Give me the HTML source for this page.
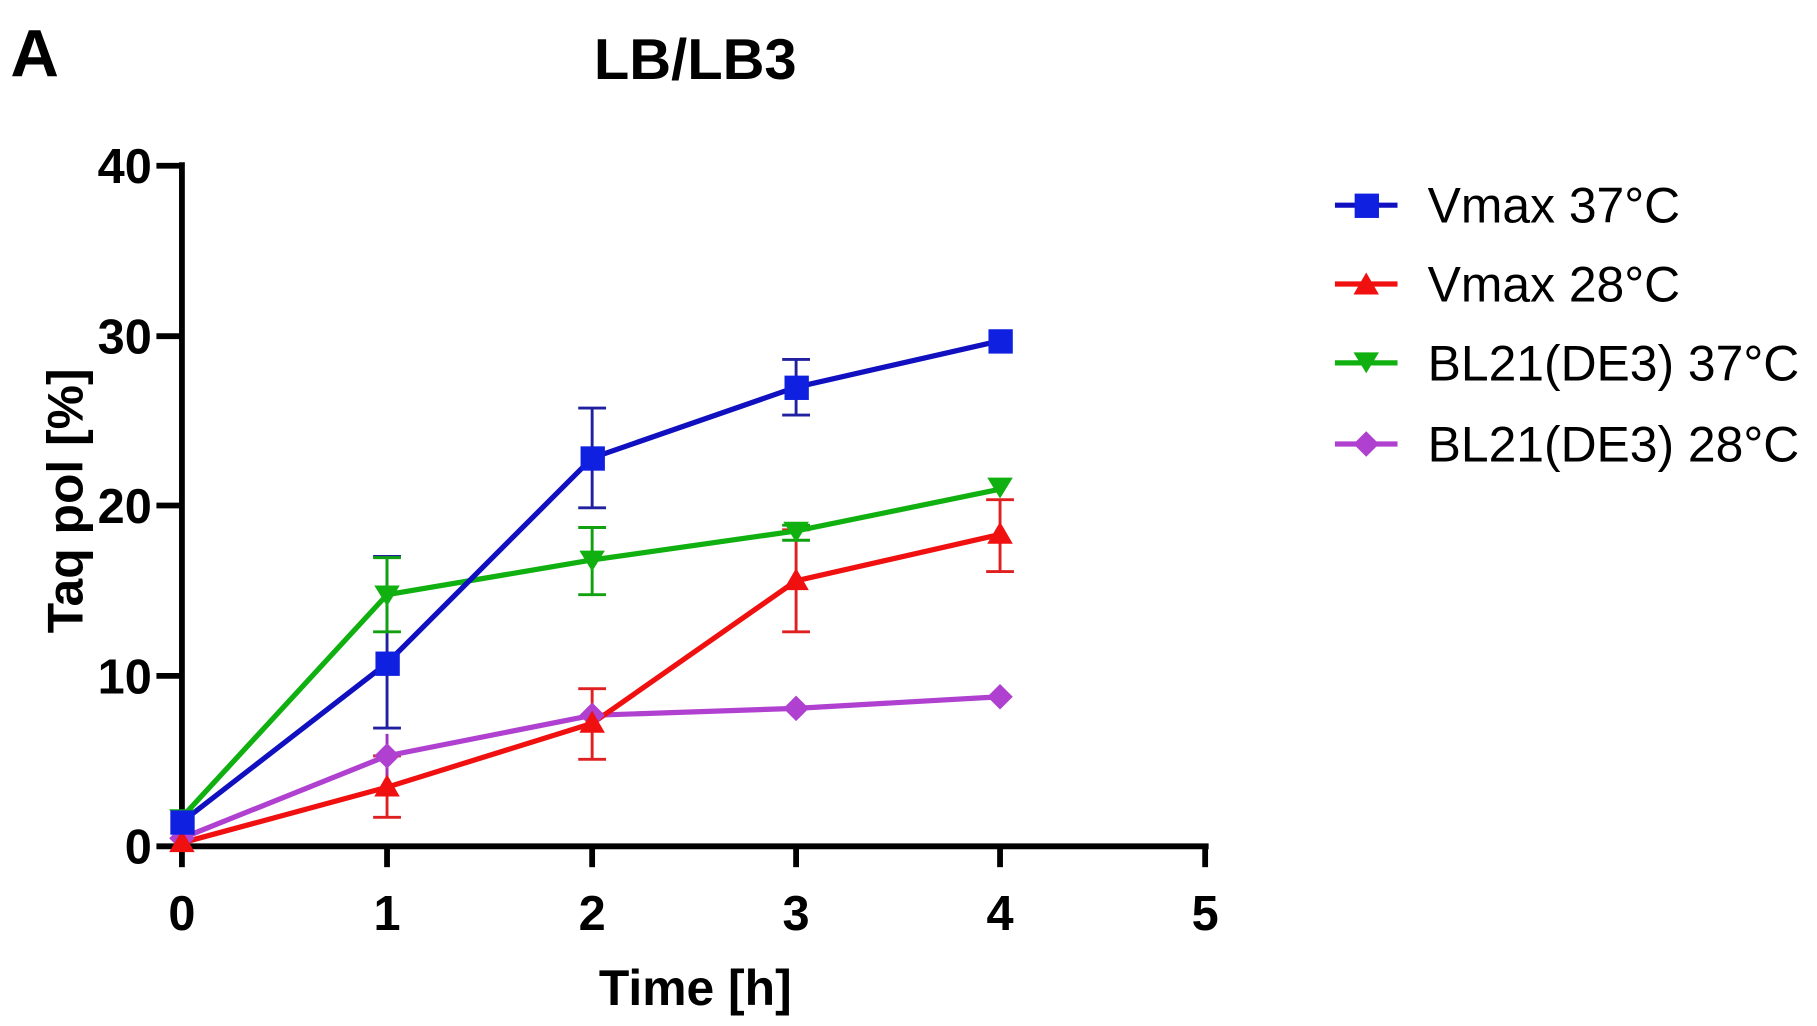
<!DOCTYPE html>
<html><head><meta charset="utf-8"><style>
html,body{margin:0;padding:0;background:#fff;width:1817px;height:1026px;overflow:hidden}
svg{display:block}
text{font-family:"Liberation Sans",Arial,sans-serif}
</style></head><body>
<svg width="1817" height="1026" viewBox="0 0 1568 885" preserveAspectRatio="none" xmlns="http://www.w3.org/2000/svg">
<text x="9" y="66" font-size="58" font-weight="bold">A</text>
<text x="600" y="68" font-size="50" font-weight="bold" text-anchor="middle">LB/LB3</text>
<!-- axes -->
<g stroke="#000" stroke-width="5" fill="none">
<line x1="157" y1="140" x2="157" y2="732"/>
<line x1="155" y1="730" x2="1043" y2="730"/>
<line x1="135" y1="143" x2="157" y2="143"/>
<line x1="135" y1="290" x2="157" y2="290"/>
<line x1="135" y1="436" x2="157" y2="436"/>
<line x1="135" y1="583" x2="157" y2="583"/>
<line x1="135" y1="730" x2="157" y2="730"/>
<line x1="157" y1="730" x2="157" y2="748"/>
<line x1="334" y1="730" x2="334" y2="748"/>
<line x1="511" y1="730" x2="511" y2="748"/>
<line x1="687" y1="730" x2="687" y2="748"/>
<line x1="863" y1="730" x2="863" y2="748"/>
<line x1="1040" y1="730" x2="1040" y2="748"/>
</g>
<g font-size="42" font-weight="bold" text-anchor="end">
<text x="131" y="158">40</text><text x="131" y="305">30</text><text x="131" y="451">20</text><text x="131" y="598">10</text><text x="131" y="745">0</text>
</g>
<g font-size="42" font-weight="bold" text-anchor="middle">
<text x="157" y="802">0</text><text x="334" y="802">1</text><text x="511" y="802">2</text><text x="687" y="802">3</text><text x="863" y="802">4</text><text x="1040" y="802">5</text>
</g>
<text x="600" y="867" font-size="43" font-weight="bold" text-anchor="middle">Time [h]</text>
<text transform="translate(71,432) rotate(-90)" font-size="43" font-weight="bold" text-anchor="middle">Taq pol [%]</text>

<!-- error bars -->
<g stroke-width="2.5" fill="none">
<g stroke="#2020a0">
<path d="M334 480V628M322 480H346M322 628H346"/>
<path d="M511 352V438M499 352H523M499 438H523"/>
<path d="M687 310V358M675 310H699M675 358H699"/>
</g>
<g stroke="#e02020">
<path d="M334 652V705M322 652H346M322 705H346"/>
<path d="M511 594V655M499 594H523M499 655H523"/>
<path d="M687 457V545M675 457H699M675 545H699"/>
<path d="M863 431V493M851 431H875M851 493H875"/>
</g>
<g stroke="#10a010">
<path d="M334 481V545M322 481H346M322 545H346"/>
<path d="M511 455V513M499 455H523M499 513H523"/>
<path d="M687 453V466M675 453H699M675 466H699"/>
</g>
<g stroke="#a030c0">
<path d="M334 633V671"/>
</g>
</g>
<!-- lines -->
<g fill="none" stroke-width="4.5" stroke-linejoin="round">
<polyline stroke="#b040d0" points="157,723 334,652 511,617 687,611 863,601"/>
<polyline stroke="#f01010" points="157,727 334,679 511,624 687,501 863,461"/>
<polyline stroke="#10b010" points="157,705 334,513 511,483 687,458 863,422"/>
<polyline stroke="#1010c0" points="157,709 334,572 511,395 687,334 863,294"/>
</g>
<!-- markers -->
<g fill="#b040d0">
<path d="M157 712l11 11-11 11-11-11z"/><path d="M334 641l11 11-11 11-11-11z"/><path d="M511 606l11 11-11 11-11-11z"/><path d="M687 600l11 11-11 11-11-11z"/><path d="M863 590l11 11-11 11-11-11z"/>
</g>
<g fill="#f01010">
<path d="M157 716l11 19h-22z"/><path d="M334 668l11 19h-22z"/><path d="M511 613l11 19h-22z"/><path d="M687 490l11 19h-22z"/><path d="M863 450l11 19h-22z"/>
</g>
<g fill="#10b010">
<path d="M146 698h22l-11 18z"/><path d="M323 505h22l-11 18z"/><path d="M500 475h22l-11 18z"/><path d="M676 450h22l-11 18z"/><path d="M852 412h22l-11 18z"/>
</g>
<g fill="#1020e0">
<rect x="147" y="699" width="21" height="21"/><rect x="324" y="562" width="21" height="21"/><rect x="501" y="385" width="21" height="21"/><rect x="677" y="324" width="21" height="21"/><rect x="853" y="284" width="21" height="21"/>
</g>
<!-- legend -->
<g stroke-width="4.5">
<line x1="1152" y1="177" x2="1206" y2="177" stroke="#1010c0"/>
<line x1="1152" y1="245" x2="1206" y2="245" stroke="#f01010"/>
<line x1="1152" y1="313" x2="1206" y2="313" stroke="#10b010"/>
<line x1="1152" y1="383" x2="1206" y2="383" stroke="#b040d0"/>
</g>
<rect x="1169" y="167" width="21" height="21" fill="#1020e0"/>
<path d="M1179 235l11 19h-22z" fill="#f01010"/>
<path d="M1168 304h22l-11 18z" fill="#10b010"/>
<path d="M1179 372l11 11-11 11-11-11z" fill="#b040d0"/>
<g font-size="43">
<text x="1232" y="192">Vmax 37°C</text>
<text x="1232" y="260">Vmax 28°C</text>
<text x="1232" y="328">BL21(DE3) 37°C</text>
<text x="1232" y="398">BL21(DE3) 28°C</text>
</g>
</svg>
</body></html>
